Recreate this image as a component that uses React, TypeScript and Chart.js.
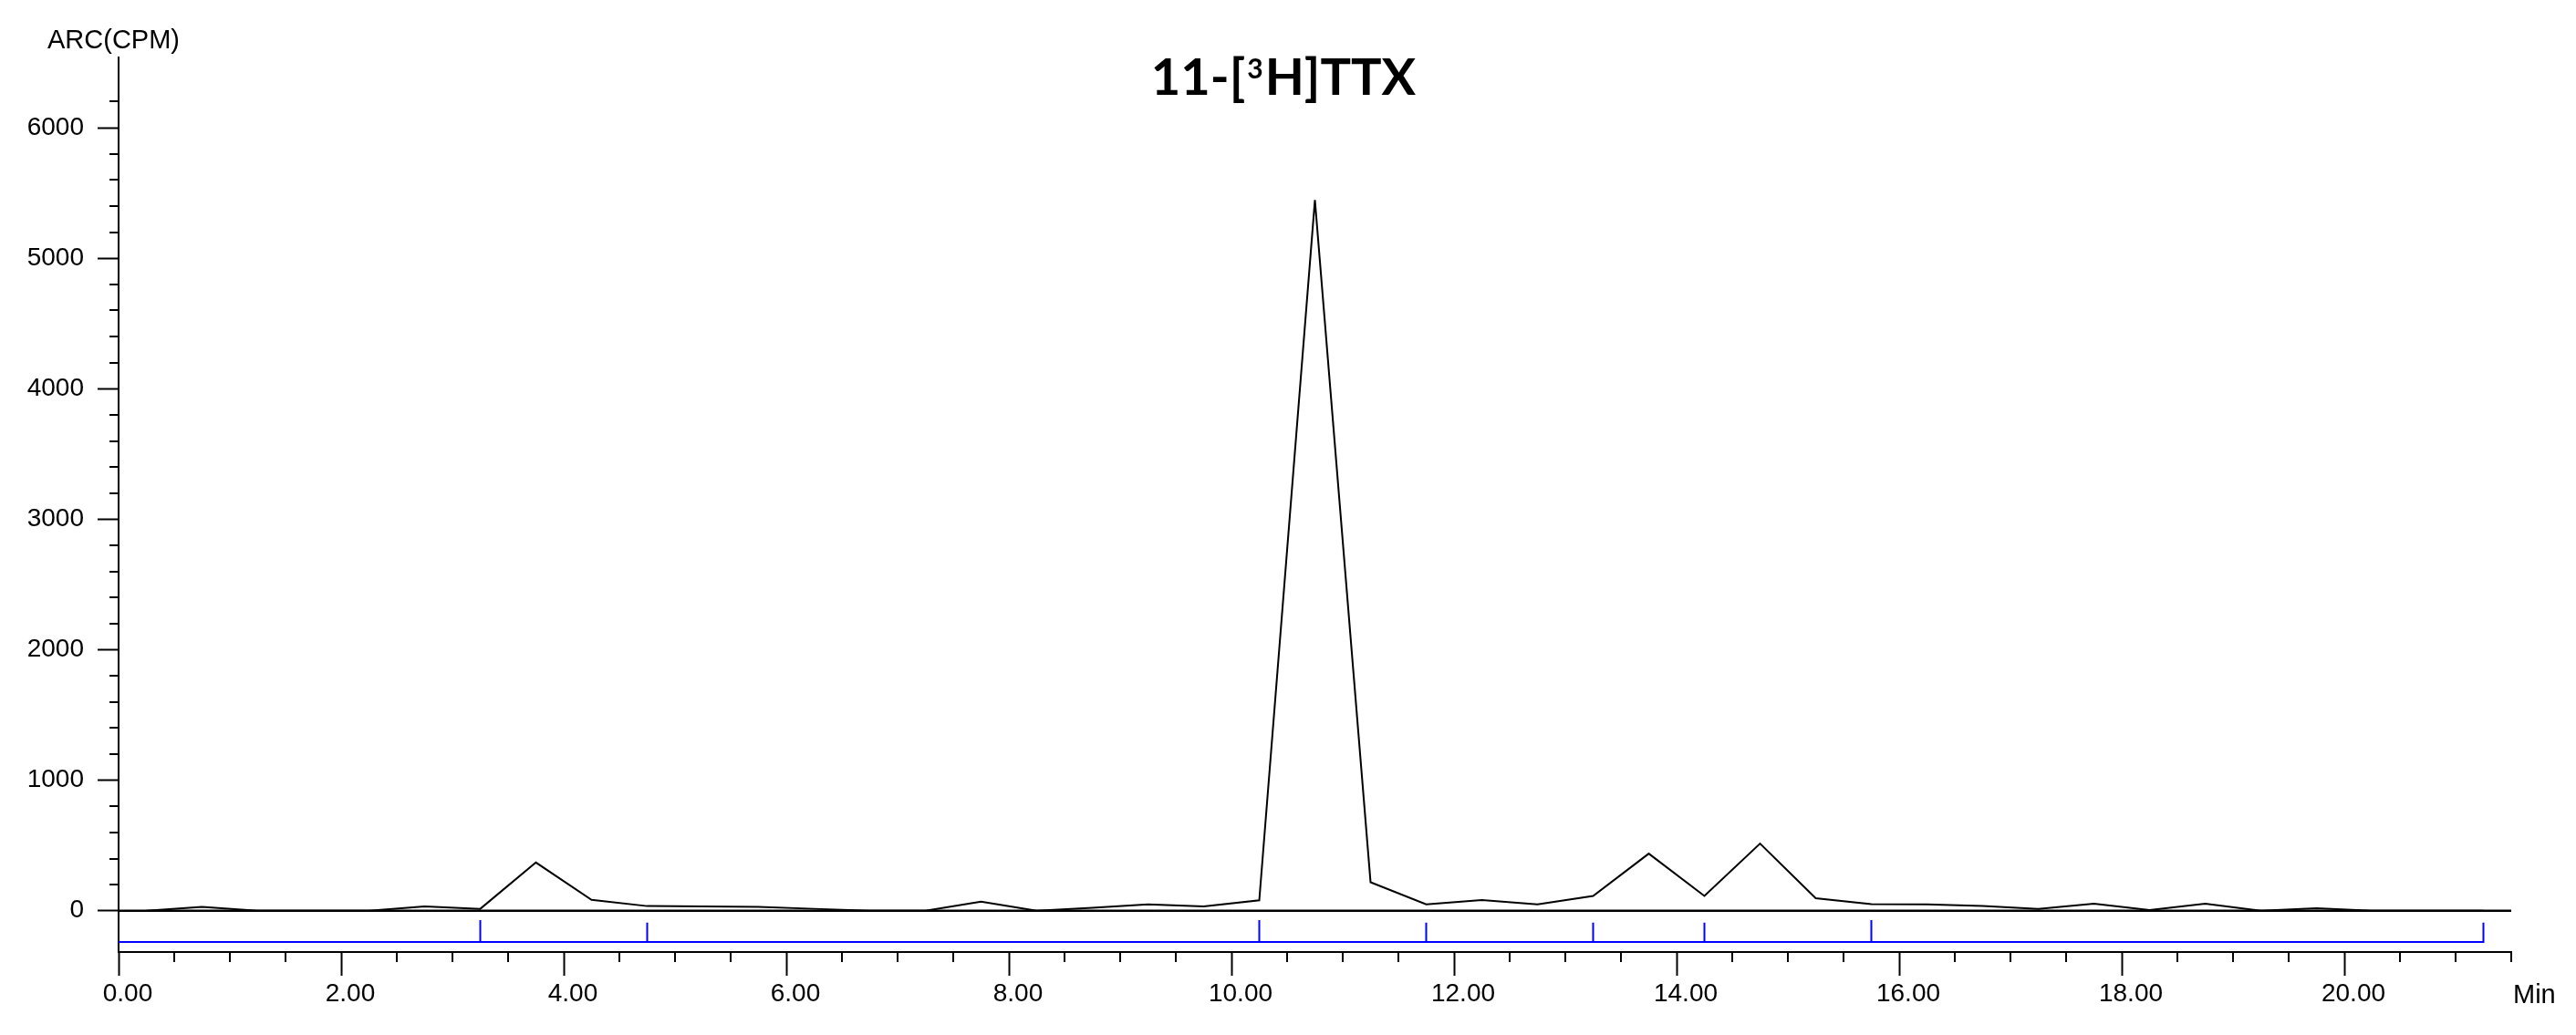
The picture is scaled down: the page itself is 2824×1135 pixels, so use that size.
import React, { useEffect, useRef } from "react";
import { Chart, registerables } from "chart.js";

Chart.register(...registerables);

// Retention times (min) of the radio-detector readings
const times = [
  0.25, 0.75, 1.25, 1.75, 2.25, 2.75, 3.25, 3.75, 4.25, 4.75,
  5.25, 5.75, 6.25, 6.75, 7.25, 7.75, 8.25, 8.75, 9.25, 9.75,
  10.25, 10.75, 11.25, 11.75, 12.25, 12.75, 13.25, 13.75, 14.25, 14.75,
  15.25, 15.75, 16.25, 16.75, 17.25, 17.75, 18.25, 18.75, 19.25, 19.75,
  20.25, 20.75, 21.25,
];
// Activity (CPM)
const counts = [
  0, 30, 0, 0, 0, 33, 15, 370, 84, 36,
  33, 30, 15, 0, 0, 70, 0, 22, 49, 33,
  80, 5445, 219, 49, 82, 49, 114, 438, 114, 515,
  96, 50, 49, 37, 14, 54, 5, 54, 0, 20,
  0, 0, 0,
];

// Blue event-marker comb under the trace
const markerTimes = [3.25, 4.75, 10.25, 11.75, 13.25, 14.25, 15.75, 21.25];
const markerTops = [-72, -90, -72, -90, -90, -90, -72, -90];
const markerBase = -240;

// Axes
const xMin = 0;
const xMax = 21.5;
const yMin = -316;
const yMax = 6538;
const xMajorTicks = [0, 2, 4, 6, 8, 10, 12, 14, 16, 18, 20];
const yMajorTicks = [0, 1000, 2000, 3000, 4000, 5000, 6000];
const xMinorStep = 0.5;
const yMinorStep = 200;
const yMinorMax = 6200;

const titleParts = ["11-[", "3", "H]TTX"];
const yAxisTitle = "ARC(CPM)";
const xAxisTitle = "Min";

const AXIS_FONT = "'Liberation Sans', Arial, sans-serif";
const TITLE_FONT = "Lato, 'Open Sans', sans-serif";

export default function App() {
  const canvasRef = useRef<HTMLCanvasElement | null>(null);

  useEffect(() => {
    const canvas = canvasRef.current;
    if (!canvas) return;

    const tracePoints = times.map((t, i) => ({ x: t, y: counts[i] }));
    const baselinePoints = [
      { x: xMin, y: 0 },
      { x: xMax, y: 0 },
    ];
    const markerPoints: { x: number; y: number }[] = [{ x: xMin, y: markerBase }];
    markerTimes.forEach((t, i) => {
      markerPoints.push({ x: t, y: markerBase });
      markerPoints.push({ x: t, y: markerTops[i] });
      markerPoints.push({ x: t, y: markerBase });
    });

    const decorPlugin = {
      id: "decor",
      afterDraw(chart: any) {
        const ctx = chart.ctx as CanvasRenderingContext2D;
        const xs = chart.scales.x;
        const ys = chart.scales.y;
        const area = chart.chartArea;
        ctx.save();
        ctx.strokeStyle = "#000";
        ctx.lineWidth = 2;
        // minor y ticks
        for (let v = yMinorStep; v <= yMinorMax + 1e-6; v += yMinorStep) {
          if (Math.abs(v % 1000) < 1e-6) continue;
          const py = Math.round(ys.getPixelForValue(v));
          ctx.beginPath();
          ctx.moveTo(area.left - 10, py);
          ctx.lineTo(area.left, py);
          ctx.stroke();
        }
        // minor x ticks
        for (let v = xMinorStep; v <= xMax + 1e-6; v += xMinorStep) {
          if (Math.abs(v % 2) < 1e-6) continue;
          const px = Math.round(xs.getPixelForValue(v));
          ctx.beginPath();
          ctx.moveTo(px, area.bottom);
          ctx.lineTo(px, area.bottom + 11);
          ctx.stroke();
        }
        // axis titles
        ctx.fillStyle = "#000";
        ctx.font = `29px ${AXIS_FONT}`;
        ctx.textAlign = "left";
        ctx.textBaseline = "alphabetic";
        ctx.fillText(yAxisTitle, 52, 53);
        ctx.fillText(xAxisTitle, area.right + 2, 1100);

        // title with superscript
        ctx.font = `bold 56px ${TITLE_FONT}`;
        const w1 = ctx.measureText(titleParts[0]).width;
        const w3 = ctx.measureText(titleParts[2]).width;
        ctx.font = `bold 30px ${TITLE_FONT}`;
        const w2 = ctx.measureText(titleParts[1]).width + 4;
        const total = w1 + w2 + w3;
        const cx = chart.width / 2 - 5;
        let x = cx - total / 2;
        ctx.font = `bold 56px ${TITLE_FONT}`;
        ctx.fillText(titleParts[0], x, 104);
        x += w1;
        ctx.font = `bold 30px ${TITLE_FONT}`;
        ctx.fillText(titleParts[1], x + 2, 86);
        x += w2;
        ctx.font = `bold 56px ${TITLE_FONT}`;
        ctx.fillText(titleParts[2], x, 104);
        ctx.restore();
      },
    };

    const chart = new Chart(canvas, {
      type: "line",
      data: {
        datasets: [
          {
            label: "11-[3H]TTX",
            data: tracePoints,
            borderColor: "#000",
            borderWidth: 2,
            pointRadius: 0,
            tension: 0,
            fill: false,
          },
          {
            label: "baseline",
            data: baselinePoints,
            borderColor: "#000",
            borderWidth: 2.5,
            pointRadius: 0,
            fill: false,
          },
          {
            label: "markers",
            data: markerPoints,
            borderColor: "#0000ff",
            borderWidth: 2,
            pointRadius: 0,
            fill: false,
          },
        ],
      },
      options: {
        responsive: false,
        animation: false,
        devicePixelRatio: 1,
        parsing: true,
        layout: { padding: { top: 63, right: 71, left: 0, bottom: 0 } },
        plugins: {
          legend: { display: false },
          tooltip: { enabled: false },
          title: { display: false },
        },
        scales: {
          x: {
            type: "linear",
            position: "bottom",
            min: xMin,
            max: xMax,
            afterBuildTicks: (scale: any) => {
              scale.ticks = xMajorTicks.map((v) => ({ value: v }));
            },
            afterFit: (scale: any) => {
              scale.height = 91;
            },
            ticks: {
              callback: (v: any) => Number(v).toFixed(2),
              font: { family: AXIS_FONT, size: 28 },
              color: "#000",
              labelOffset: 10,
              padding: 3,
              maxRotation: 0,
              autoSkip: false,
            },
            grid: {
              display: true,
              drawOnChartArea: false,
              drawTicks: true,
              tickLength: 26,
              tickWidth: 2,
              tickColor: "#000",
            },
            border: { display: true, color: "#000", width: 2 },
          },
          y: {
            type: "linear",
            position: "left",
            min: yMin,
            max: yMax,
            afterBuildTicks: (scale: any) => {
              scale.ticks = yMajorTicks.map((v) => ({ value: v }));
            },
            afterFit: (scale: any) => {
              scale.width = 130;
            },
            ticks: {
              callback: (v: any) => String(v),
              font: { family: AXIS_FONT, size: 28 },
              color: "#000",
              padding: 15,
              autoSkip: false,
            },
            grid: {
              display: true,
              drawOnChartArea: false,
              drawTicks: true,
              tickLength: 23,
              tickWidth: 2,
              tickColor: "#000",
            },
            border: { display: true, color: "#000", width: 2 },
          },
        },
      },
      plugins: [decorPlugin],
    } as any);

    return () => {
      chart.destroy();
    };
  }, []);

  return (
    <div style={{ position: "absolute", left: 0, top: 0, width: 2824, height: 1135, background: "#fff" }}>
      <canvas ref={canvasRef} width={2824} height={1135} style={{ display: "block" }} />
    </div>
  );
}
